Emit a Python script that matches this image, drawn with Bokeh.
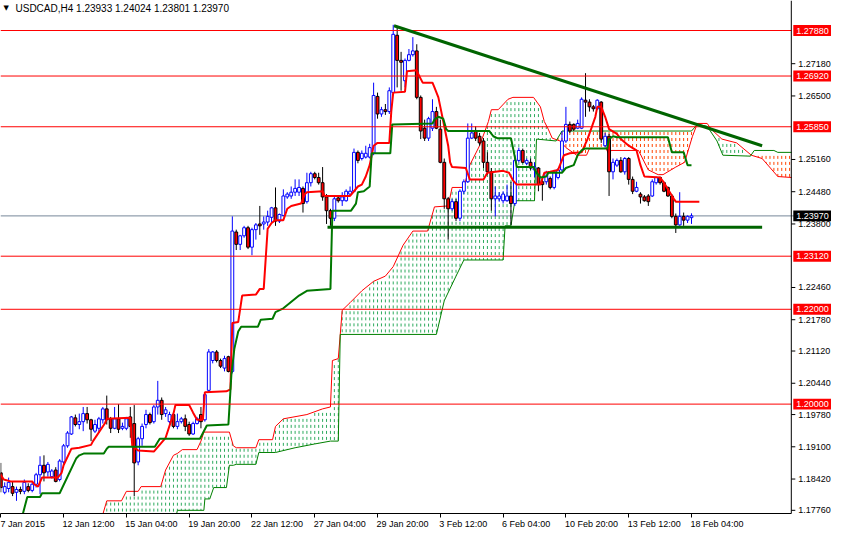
import math
import numpy as np
from bokeh.plotting import figure
from bokeh.models import (ColumnDataSource, Range1d, FixedTicker, Span, Label, LinearAxis)
from bokeh.core.properties import value
from bokeh.embed import file_html
from bokeh.resources import INLINE

chart_title = "USDCAD,H4  1.23933 1.24024 1.23801 1.23970"

bar_open = [1.1855, 1.1814, 1.1822, 1.1826, 1.1814, 1.1820, 1.1816, 1.1826, 1.1818, 1.1831,
            1.1851, 1.1871, 1.1857, 1.1847, 1.1861, 1.1841, 1.1878, 1.1912, 1.1937, 1.1971,
            1.1957, 1.1963, 1.1980, 1.1967, 1.1943, 1.1949, 1.1967, 1.1990, 1.1969, 1.1949,
            1.1969, 1.1949, 1.1949, 1.1973, 1.1959, 1.1878, 1.1927, 1.1957, 1.1978, 1.1963,
            1.1994, 1.2008, 1.1980, 1.1963, 1.1978, 1.1953, 1.1963, 1.1969, 1.1957, 1.1937,
            1.1959, 1.1978, 1.1967, 1.2029, 1.2092, 1.2110, 1.2092, 1.2076, 1.2100, 1.2069,
            1.2363, 1.2337, 1.2355, 1.2372, 1.2331, 1.2368, 1.2380, 1.2380, 1.2384, 1.2394,
            1.2414, 1.2386, 1.2398, 1.2437, 1.2439, 1.2447, 1.2447, 1.2455, 1.2427, 1.2467,
            1.2486, 1.2478, 1.2467, 1.2437, 1.2408, 1.2392, 1.2435, 1.2429, 1.2429, 1.2443,
            1.2449, 1.2531, 1.2518, 1.2521, 1.2521, 1.2529, 1.2649, 1.2612, 1.2621, 1.2617,
            1.2657, 1.2778, 1.2725, 1.2682, 1.2725, 1.2737, 1.2745, 1.2647, 1.2582, 1.2561,
            1.2582, 1.2617, 1.2580, 1.2510, 1.2433, 1.2412, 1.2427, 1.2392, 1.2449, 1.2469,
            1.2561, 1.2576, 1.2565, 1.2555, 1.2510, 1.2490, 1.2433, 1.2433, 1.2429, 1.2429,
            1.2439, 1.2423, 1.2514, 1.2535, 1.2508, 1.2510, 1.2494, 1.2498, 1.2469, 1.2469,
            1.2476, 1.2457, 1.2478, 1.2494, 1.2555, 1.2590, 1.2590, 1.2582, 1.2582, 1.2641,
            1.2637, 1.2627, 1.2623, 1.2637, 1.2545, 1.2565, 1.2490, 1.2504, 1.2514, 1.2490,
            1.2518, 1.2474, 1.2449, 1.2443, 1.2437, 1.2439, 1.2439, 1.2467, 1.2478, 1.2467,
            1.2457, 1.2439, 1.2396, 1.2378, 1.2396, 1.2388, 1.23933]
bar_high = [1.1876, 1.1835, 1.1845, 1.1837, 1.1826, 1.1826, 1.1841, 1.1833, 1.1837, 1.1855,
            1.1890, 1.1892, 1.1878, 1.1863, 1.1867, 1.1884, 1.1916, 1.1943, 1.1975, 1.1978,
            1.1980, 1.1994, 1.1994, 1.1969, 1.1967, 1.1973, 1.1994, 1.2018, 1.1973, 1.1994,
            1.2000, 1.1961, 1.1973, 1.1994, 1.1998, 1.1931, 1.1959, 1.1988, 1.1982, 1.1998,
            1.2049, 1.2014, 1.1994, 1.1984, 1.1984, 1.1980, 1.1973, 1.1978, 1.1963, 1.1963,
            1.1973, 1.1994, 1.2025, 1.2116, 1.2112, 1.2114, 1.2096, 1.2102, 1.2102, 1.2396,
            1.2368, 1.2357, 1.2376, 1.2376, 1.2372, 1.2382, 1.2418, 1.2396, 1.2408, 1.2416,
            1.2457, 1.2402, 1.2453, 1.2447, 1.2459, 1.2474, 1.2474, 1.2459, 1.2488, 1.2490,
            1.2490, 1.2488, 1.2500, 1.2443, 1.2412, 1.2437, 1.2439, 1.2447, 1.2453, 1.2459,
            1.2539, 1.2535, 1.2535, 1.2545, 1.2549, 1.2678, 1.2657, 1.2627, 1.2633, 1.2668,
            1.2800, 1.2794, 1.2743, 1.2729, 1.2749, 1.2774, 1.2759, 1.2651, 1.2600, 1.2606,
            1.2643, 1.2627, 1.2600, 1.2518, 1.2437, 1.2433, 1.2433, 1.2453, 1.2474, 1.2592,
            1.2592, 1.2586, 1.2572, 1.2561, 1.2531, 1.2498, 1.2459, 1.2447, 1.2449, 1.2463,
            1.2469, 1.2525, 1.2541, 1.2539, 1.2518, 1.2518, 1.2510, 1.2500, 1.2478, 1.2492,
            1.2480, 1.2494, 1.2498, 1.2576, 1.2627, 1.2596, 1.2592, 1.2600, 1.2647, 1.2698,
            1.2643, 1.2631, 1.2643, 1.2639, 1.2572, 1.2570, 1.2518, 1.2518, 1.2521, 1.2521,
            1.2521, 1.2480, 1.2469, 1.2447, 1.2441, 1.2443, 1.2474, 1.2480, 1.2480, 1.2469,
            1.2459, 1.2443, 1.2402, 1.2447, 1.2404, 1.2398, 1.24024]
bar_low = [1.1814, 1.1810, 1.1814, 1.1806, 1.1796, 1.1810, 1.1810, 1.1814, 1.1814, 1.1824,
           1.1810, 1.1837, 1.1847, 1.1843, 1.1835, 1.1837, 1.1873, 1.1908, 1.1935, 1.1953,
           1.1947, 1.1943, 1.1959, 1.1922, 1.1939, 1.1939, 1.1959, 1.1957, 1.1939, 1.1947,
           1.1939, 1.1945, 1.1945, 1.1929, 1.1806, 1.1871, 1.1912, 1.1949, 1.1957, 1.1959,
           1.1978, 1.1967, 1.1973, 1.1959, 1.1949, 1.1947, 1.1959, 1.1943, 1.1933, 1.1935,
           1.1957, 1.1949, 1.1963, 1.2025, 1.2086, 1.2088, 1.2076, 1.2069, 1.2067, 1.2065,
           1.2325, 1.2325, 1.2351, 1.2327, 1.2314, 1.2347, 1.2357, 1.2368, 1.2376, 1.2382,
           1.2376, 1.2382, 1.2396, 1.2433, 1.2433, 1.2439, 1.2439, 1.2404, 1.2423, 1.2459,
           1.2474, 1.2463, 1.2429, 1.2380, 1.2376, 1.2386, 1.2425, 1.2418, 1.2427, 1.2439,
           1.2447, 1.2508, 1.2514, 1.2518, 1.2518, 1.2525, 1.2602, 1.2606, 1.2610, 1.2612,
           1.2653, 1.2668, 1.2661, 1.2668, 1.2723, 1.2733, 1.2643, 1.2559, 1.2555, 1.2555,
           1.2576, 1.2580, 1.2508, 1.2412, 1.2347, 1.2408, 1.2386, 1.2386, 1.2443, 1.2467,
           1.2559, 1.2555, 1.2545, 1.2498, 1.2484, 1.2408, 1.2396, 1.2427, 1.2423, 1.2427,
           1.2378, 1.2418, 1.2510, 1.2508, 1.2504, 1.2494, 1.2478, 1.2449, 1.2429, 1.2463,
           1.2453, 1.2453, 1.2474, 1.2490, 1.2551, 1.2572, 1.2576, 1.2580, 1.2580, 1.2606,
           1.2617, 1.2617, 1.2621, 1.2551, 1.2541, 1.2439, 1.2474, 1.2500, 1.2488, 1.2484,
           1.2463, 1.2443, 1.2447, 1.2423, 1.2427, 1.2418, 1.2437, 1.2463, 1.2463, 1.2447,
           1.2437, 1.2392, 1.2361, 1.2376, 1.2376, 1.2382, 1.23801]
bar_close = [1.1824, 1.1826, 1.1835, 1.1812, 1.1820, 1.1816, 1.1835, 1.1818, 1.1831, 1.1851,
             1.1871, 1.1855, 1.1873, 1.1859, 1.1837, 1.1880, 1.1912, 1.1939, 1.1973, 1.1957,
             1.1963, 1.1980, 1.1967, 1.1947, 1.1957, 1.1969, 1.1990, 1.1967, 1.1949, 1.1969,
             1.1947, 1.1953, 1.1969, 1.1953, 1.1876, 1.1927, 1.1953, 1.1978, 1.1961, 1.1994,
             1.2008, 1.1978, 1.1988, 1.1978, 1.1953, 1.1963, 1.1969, 1.1953, 1.1937, 1.1959,
             1.1969, 1.1963, 1.2020, 1.2110, 1.2110, 1.2092, 1.2080, 1.2096, 1.2069, 1.2365,
             1.2337, 1.2355, 1.2372, 1.2331, 1.2368, 1.2378, 1.2376, 1.2384, 1.2396, 1.2414,
             1.2386, 1.2400, 1.2439, 1.2443, 1.2447, 1.2455, 1.2457, 1.2423, 1.2467, 1.2486,
             1.2478, 1.2467, 1.2437, 1.2408, 1.2392, 1.2433, 1.2429, 1.2437, 1.2449, 1.2449,
             1.2531, 1.2514, 1.2529, 1.2529, 1.2541, 1.2651, 1.2612, 1.2621, 1.2617, 1.2661,
             1.2780, 1.2725, 1.2721, 1.2725, 1.2737, 1.2745, 1.2647, 1.2576, 1.2561, 1.2602,
             1.2617, 1.2582, 1.2510, 1.2433, 1.2412, 1.2427, 1.2392, 1.2449, 1.2469, 1.2561,
             1.2572, 1.2561, 1.2551, 1.2510, 1.2490, 1.2433, 1.2439, 1.2439, 1.2443, 1.2439,
             1.2423, 1.2514, 1.2535, 1.2510, 1.2514, 1.2498, 1.2500, 1.2463, 1.2463, 1.2488,
             1.2457, 1.2490, 1.2494, 1.2555, 1.2590, 1.2576, 1.2580, 1.2592, 1.2643, 1.2637,
             1.2627, 1.2623, 1.2641, 1.2559, 1.2565, 1.2490, 1.2510, 1.2514, 1.2490, 1.2518,
             1.2474, 1.2449, 1.2457, 1.2437, 1.2429, 1.2427, 1.2469, 1.2478, 1.2467, 1.2449,
             1.2439, 1.2396, 1.2378, 1.2396, 1.2388, 1.2396, 1.23970]

# Ichimoku lines as (bar index, price) breakpoints
tenkan_bar = [0, 0.75, 2.5, 8, 8.5, 9.5, 10.5, 14.5, 15.5, 16, 18, 20, 23, 23.5, 26.5, 27, 33, 33.5, 35, 39,
              42, 44, 44.5, 48, 49, 50, 51.5, 52, 57.5, 58.5, 59, 60.5, 61.5, 65, 66, 67, 68, 69, 70, 72,
              73, 74, 76.5, 77.5, 78, 82, 82.5, 89, 90, 91, 92, 93, 94, 95, 96, 99, 99.5, 100, 103, 103.5,
              106, 106.5, 107.5, 110, 110.5, 111.5, 112, 113, 114, 114.5, 115, 118.5, 119.5, 123, 124, 128,
              129.5, 130.5, 131.5, 137.5, 138.5, 140, 142, 143.5, 145, 148, 149.5, 150.5, 151.5, 152, 153,
              154, 155, 157, 158, 160, 162, 163, 164, 168, 169, 170, 171.5, 172, 178]
tenkan_val = [1.1851, 1.1841, 1.1837, 1.1837, 1.1831, 1.1826, 1.1845, 1.1845, 1.1855, 1.1871, 1.1906, 1.1908,
              1.1914, 1.1922, 1.1959, 1.1969, 1.1971, 1.1912, 1.1902, 1.1900, 1.1929, 1.1980, 1.1998, 1.1998,
              1.1982, 1.1967, 1.1967, 1.2025, 1.2027, 1.2031, 1.2171, 1.2173, 1.2229, 1.2231, 1.2243, 1.2243,
              1.2370, 1.2382, 1.2388, 1.2388, 1.2412, 1.2418, 1.2423, 1.2443, 1.2447, 1.2449, 1.2439, 1.2439,
              1.2449, 1.2459, 1.2463, 1.2480, 1.2504, 1.2545, 1.2551, 1.2551, 1.2617, 1.2657, 1.2659, 1.2702,
              1.2704, 1.2694, 1.2678, 1.2678, 1.2668, 1.2647, 1.2627, 1.2586, 1.2545, 1.2510, 1.2500, 1.2498,
              1.2474, 1.2474, 1.2488, 1.2492, 1.2488, 1.2472, 1.2463, 1.2463, 1.2488, 1.2490, 1.2494, 1.2525,
              1.2529, 1.2531, 1.2559, 1.2582, 1.2606, 1.2627, 1.2627, 1.2606, 1.2580, 1.2570, 1.2559, 1.2545,
              1.2535, 1.2504, 1.2480, 1.2478, 1.2467, 1.2453, 1.2433, 1.2427, 1.2427]
kijun_bar = [5, 6.75, 10, 10.5, 15, 19.25, 20, 21.25, 26.25, 27, 27.5, 39.25, 40.5, 50.75, 52.5, 58, 58.75,
             59.5, 60.5, 61.25, 65.5, 66.25, 69.25, 70, 72, 76, 78, 84, 84.5, 89.25, 90.5, 91, 92.5, 94, 94.5,
             99.25, 99.75, 110, 110.5, 111.5, 112.75, 113.5, 114, 124.5, 125.5, 126.5, 130, 130.5, 131.5,
             135.75, 136.5, 137.5, 139, 139.5, 143, 144, 146, 147, 148, 148.75, 154.5, 155, 156, 157, 170,
             171, 174, 175, 176]
kijun_val = [1.1749, 1.1804, 1.1804, 1.1812, 1.1812, 1.1886, 1.1892, 1.1896, 1.1896, 1.1906, 1.1910, 1.1910,
             1.1927, 1.1927, 1.1955, 1.1957, 1.2061, 1.2116, 1.2153, 1.2163, 1.2163, 1.2178, 1.2180, 1.2194,
             1.2202, 1.2229, 1.2239, 1.2243, 1.2408, 1.2408, 1.2423, 1.2447, 1.2449, 1.2459, 1.2529, 1.2529,
             1.2590, 1.2592, 1.2600, 1.2606, 1.2602, 1.2580, 1.2576, 1.2576, 1.2565, 1.2561, 1.2561, 1.2541,
             1.2500, 1.2500, 1.2488, 1.2478, 1.2480, 1.2488, 1.2488, 1.2498, 1.2504, 1.2525, 1.2535, 1.2539,
             1.2539, 1.2559, 1.2565, 1.2563, 1.2563, 1.2531, 1.2531, 1.2504, 1.2504]
senkou_a_bar = [0, 25, 27, 30.75, 32, 35, 35.75, 40.75, 42, 44, 45, 46.25, 50, 51, 51.75, 58.25, 59.25, 60,
                65, 65.75, 69.25, 70, 72, 78, 82, 84, 84.5, 86, 87, 89, 92, 95, 98, 100, 102.5, 105, 108.75,
                110.5, 114, 115, 118, 119.5, 122, 124.25, 125, 126.75, 129.25, 130.5, 135.75, 137.5, 138.5,
                139.5, 140.5, 142.5, 144, 146.75, 149.25, 150, 154.25, 155, 155.5, 162.5, 165, 167.5, 168.75,
                172, 174.25, 176.25, 177.5, 180, 181, 183.75, 187.5, 191.25, 194, 198, 201.5]
senkou_a_val = [1.1708, 1.1739, 1.1796, 1.1796, 1.1816, 1.1816, 1.1826, 1.1826, 1.1861, 1.1892, 1.1896, 1.1904,
                1.1904, 1.1922, 1.1941, 1.1941, 1.1912, 1.1908, 1.1908, 1.1925, 1.1925, 1.1953, 1.1969, 1.1978,
                1.1990, 1.1994, 1.2092, 1.2096, 1.2198, 1.2214, 1.2239, 1.2259, 1.2270, 1.2290, 1.2335, 1.2365,
                1.2365, 1.2416, 1.2418, 1.2457, 1.2457, 1.2504, 1.2545, 1.2596, 1.2621, 1.2621, 1.2643, 1.2647,
                1.2647, 1.2627, 1.2596, 1.2580, 1.2561, 1.2555, 1.2541, 1.2525, 1.2525, 1.2539, 1.2539, 1.2525,
                1.2535, 1.2535, 1.2494, 1.2484, 1.2484, 1.2500, 1.2510, 1.2565, 1.2592, 1.2592, 1.2580, 1.2559,
                1.2551, 1.2525, 1.2518, 1.2480, 1.2478]
senkou_b_bar = [0, 44, 45, 51.75, 52, 53.25, 54.25, 57.5, 58.25, 59.25, 60, 65, 65.75, 70, 75, 80, 84, 86,
                86.5, 111, 113, 116, 118, 128, 128.5, 130, 131, 136, 136.5, 141.5, 143, 176, 177.5, 180, 182.5,
                184, 191, 192, 197, 198, 201.5]
senkou_b_val = [1.1708, 1.1739, 1.1776, 1.1776, 1.1800, 1.1800, 1.1824, 1.1824, 1.1871, 1.1871, 1.1873, 1.1873,
                1.1898, 1.1898, 1.1908, 1.1916, 1.1922, 1.1922, 1.2147, 1.2147, 1.2218, 1.2270, 1.2304, 1.2304,
                1.2376, 1.2376, 1.2429, 1.2429, 1.2559, 1.2555, 1.2576, 1.2576, 1.2590, 1.2586, 1.2555, 1.2525,
                1.2523, 1.2535, 1.2535, 1.2531, 1.2531]

trend_bar = [100.2, 194]
trend_val = [1.2798, 1.2545]
support_bar = [83.25, 194]
support_val = [1.2373, 1.2373]

level_prices = [1.2788, 1.2692, 1.2585, 1.2312, 1.2200, 1.2000]
last_price = 1.2397

price_ticks = [1.27180, 1.26500, 1.25160, 1.24480, 1.23800, 1.22460, 1.21780, 1.21120,
               1.20440, 1.19780, 1.19100, 1.18420, 1.17760]
date_ticks = [0, 16, 32, 48, 64, 80, 96, 112, 128, 144, 160, 176]
date_labels = ["7 Jan 2015", "12 Jan 12:00", "15 Jan 04:00", "19 Jan 20:00", "22 Jan 12:00",
               "27 Jan 04:00", "29 Jan 20:00", "3 Feb 12:00", "6 Feb 04:00", "10 Feb 20:00",
               "13 Feb 12:00", "18 Feb 04:00"]

FONT = "Liberation Sans"
FS = 9  # px
PXB = 3.9244                  # pixels per bar
X0 = -0.075
X1 = X0 + 831 / PXB
AXIS_X = X0 + 790.8 / PXB     # price-scale line
Y0, Y1 = 1.17693, 1.28513
FH = 515.0
PPP = (Y1 - Y0) / FH          # price per pixel

p = figure(width=831, height=531, x_range=Range1d(X0, X1), y_range=Range1d(Y0, Y1),
           output_backend="svg", toolbar_location=None, y_axis_location=None,
           min_border_left=0, min_border_top=0, min_border_right=0, min_border_bottom=0,
           outline_line_color=None, background_fill_color="white", border_fill_color="white")
p.grid.visible = False

# ---- Ichimoku cloud hatching (dashes aligned on a common 6px grid)
cx = np.arange(0, 202)
sa = np.interp(cx, senkou_a_bar, senkou_a_val)
sb = np.interp(cx, senkou_b_bar, senkou_b_val)
step = 6 * PPP
hx0, hy0, hy1, hcol = [], [], [], []
for xi, a, b in zip(cx, sa, sb):
    hi, lo = max(a, b), min(a, b)
    start = Y1 - math.ceil((Y1 - hi) / step - 1e-9) * step
    if start <= lo:
        continue
    hx0.append(float(xi)); hy0.append(start); hy1.append(lo)
    hcol.append("#2EAA5E" if a >= b else "#FF4500")
p.segment(x0=hx0, y0=hy0, x1=hx0, y1=hy1, line_color=hcol, line_width=1, line_dash="3 3")
p.line(senkou_a_bar, senkou_a_val, line_color="#FF0000", line_width=1)
p.line(senkou_b_bar, senkou_b_val, line_color="#008000", line_width=1)

p.add_layout(Span(location=last_price, dimension="width", line_color="#778899",
                  line_width=1, level="underlay"))

# ---- candles
bull = [c >= o for o, c in zip(bar_open, bar_close)]
src = ColumnDataSource(dict(
    x=list(range(len(bar_open))),
    high=bar_high, low=bar_low,
    top=[max(o, c) for o, c in zip(bar_open, bar_close)],
    bottom=[min(o, c) for o, c in zip(bar_open, bar_close)],
    fill=["#FFFFFF" if b else "#FF0000" for b in bull],
    edge=["#0000FF" if b else "#000000" for b in bull],
))
p.segment(x0="x", y0="high", x1="x", y1="low", source=src, line_color="edge", line_width=1)
p.vbar(x="x", width=0.72, top="top", bottom="bottom", source=src,
       fill_color="fill", line_color="edge", line_width=1)

# ---- Tenkan / Kijun
p.line(tenkan_bar, tenkan_val, line_color="#FF0000", line_width=2)
p.line(kijun_bar, kijun_val, line_color="#007800", line_width=2)

# ---- horizontal levels (only across the chart area)
p.segment(x0=[X0] * len(level_prices), y0=level_prices, x1=[AXIS_X] * len(level_prices), y1=level_prices,
          line_color="#FF0000", line_width=1)

p.line(trend_bar, trend_val, line_color="#006400", line_width=3)
p.line(support_bar, support_val, line_color="#006400", line_width=3)

# ---- price scale on the right
p.add_layout(Span(location=AXIS_X, dimension="height", line_color="black", line_width=1))
nt = len(price_ticks)
p.segment(x0=[AXIS_X] * nt, y0=price_ticks, x1=[AXIS_X + 4 / PXB] * nt, y1=price_ticks,
          line_color="black", line_width=1)
p.text(x=[AXIS_X + 7 / PXB] * nt, y=price_ticks, text=[f"{t:.5f}" for t in price_ticks],
       text_font=value(FONT), text_font_size=f"{FS}px", text_color="black", text_baseline="middle")

box_h = 5.5 * PPP
nl = len(level_prices)
p.quad(left=[AXIS_X + 2 / PXB] * nl, right=[X1] * nl,
       bottom=[v - box_h for v in level_prices], top=[v + box_h for v in level_prices],
       fill_color="#FF0000", line_color=None)
p.text(x=[AXIS_X + 5 / PXB] * nl, y=level_prices, text=[f"{v:.5f}" for v in level_prices],
       text_font=value(FONT), text_font_size=f"{FS}px", text_color="white", text_baseline="middle")
p.quad(left=[AXIS_X + 2 / PXB], right=[X1], bottom=[last_price - box_h], top=[last_price + box_h],
       fill_color="#000000", line_color=None)
p.text(x=[AXIS_X + 5 / PXB], y=[last_price], text=[f"{last_price:.5f}"],
       text_font=value(FONT), text_font_size=f"{FS}px", text_color="white", text_baseline="middle")

# ---- time axis: tick marks + line, and labels starting at each tick
xax = p.xaxis[0]
xax.ticker = FixedTicker(ticks=date_ticks)
xax.major_label_overrides = {t: "" for t in date_ticks}
xax.major_label_text_font_size = "0px"
xax.major_label_standoff = 0
xax.bounds = (X0, AXIS_X)
xax.axis_line_color = "black"
xax.major_tick_line_color = "black"
xax.major_tick_out = 4
xax.major_tick_in = 0
xax.minor_tick_line_color = None

CHAR_W = {" ": 0.278, ":": 0.278, "J": 0.5, "a": 0.556, "n": 0.556, "F": 0.611, "e": 0.556, "b": 0.556}
for d in "0123456789":
    CHAR_W[d] = 0.556
label_pos = [round(t + (sum(CHAR_W[c] for c in s) * FS / 2 - 1) / PXB, 3)
             for t, s in zip(date_ticks, date_labels)]
lab_ax = LinearAxis(ticker=FixedTicker(ticks=label_pos),
                    major_label_overrides={t: s for t, s in zip(label_pos, date_labels)},
                    axis_line_color=None, major_tick_line_color=None, minor_tick_line_color=None,
                    major_tick_out=0, major_tick_in=0, major_label_standoff=1,
                    major_label_text_font=FONT, major_label_text_font_size=f"{FS}px",
                    major_label_text_color="black")
p.add_layout(lab_ax, "below")

# ---- title
p.add_layout(Label(x=X0 + 3 / PXB, y=Y1 - 8 * PPP, text="\u25BC", text_color="black",
                   text_font="DejaVu Sans", text_font_size="7px", text_baseline="middle"))
p.add_layout(Label(x=X0 + 15 / PXB, y=Y1 - 8 * PPP, text=chart_title, text_color="black",
                   text_font=FONT, text_font_size="10px", text_baseline="middle"))

open("out.html", "w").write(file_html(p, INLINE))
